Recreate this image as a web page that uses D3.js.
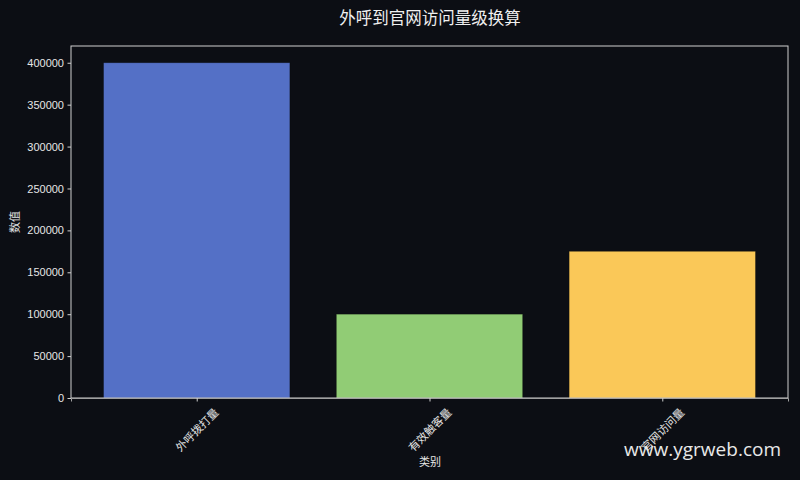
<!DOCTYPE html>
<html lang="zh">
<head>
<meta charset="UTF-8">
<title>外呼到官网访问量级换算</title>
<script src="https://cdn.jsdelivr.net/npm/d3@7"></script>
<style>
  html, body { margin: 0; padding: 0; background: #0c0e14; }
  svg { display: block; }
  text { font-family: "Liberation Sans", "Noto Sans CJK SC", sans-serif; }
</style>
</head>
<body>
<svg width="800" height="480"></svg>
<script>
  var categories = ['外呼拨打量', '有效触客量', '官网访问量'];
  var values = [400000, 100000, 175000];
  var colors = ['#5470c6', '#91cc75', '#fac858'];
  var yTicks = [0, 50000, 100000, 150000, 200000, 250000, 300000, 350000, 400000];

  var margin = { top: 46, right: 12, bottom: 82, left: 71 };
  var svg = d3.select('svg');
  var width = +svg.attr('width') - margin.left - margin.right;
  var height = +svg.attr('height') - margin.top - margin.bottom;

  svg.append('rect').attr('width', 800).attr('height', 480).attr('fill', '#0c0e14');

  var g = svg.append('g')
    .attr('transform', 'translate(' + margin.left + ',' + margin.top + ')');

  // bars of width 0.8 with 5% side margins
  var x = d3.scaleLinear().domain([-0.54, categories.length - 1 + 0.54]).range([0, width]);
  var y = d3.scaleLinear().domain([0, 420000]).range([height, 0]);
  var barW = x(0.8) - x(0);

  g.selectAll('.bar')
    .data(values)
    .enter().append('rect')
    .attr('class', 'bar')
    .attr('x', function(d, i) { return x(i) - barW / 2; })
    .attr('y', function(d) { return y(d); })
    .attr('width', barW)
    .attr('height', function(d) { return height - y(d); })
    .attr('fill', function(d, i) { return colors[i]; })
    .attr('stroke', 'rgba(0,0,0,0.25)')
    .attr('stroke-width', 0.8);

  // frame
  g.append('rect')
    .attr('width', width).attr('height', height)
    .attr('fill', 'none').attr('stroke', '#cfcfcf').attr('stroke-width', 1);

  var yAxis = g.append('g')
    .call(d3.axisLeft(y).tickValues(yTicks).tickSize(3.5).tickPadding(3.5).tickFormat(d3.format('d')));
  yAxis.select('.domain').remove();
  yAxis.selectAll('line').attr('stroke', '#cfcfcf');
  yAxis.selectAll('text').attr('fill', '#e6e6e6').style('font-size', '11px');

  var xAxis = g.append('g')
    .attr('transform', 'translate(0,' + height + ')')
    .call(d3.axisBottom(x).tickValues(d3.range(categories.length)).tickSize(3.5)
      .tickFormat(function(d) { return categories[d]; }));
  xAxis.select('.domain').attr('stroke', '#a0a0a0');
  xAxis.selectAll('line').attr('stroke', '#cfcfcf');
  xAxis.selectAll('text')
    .attr('fill', '#e6e6e6')
    .style('font-size', '11px')
    .attr('text-anchor', 'middle')
    .attr('x', 0)
    .attr('y', 0)
    .attr('dy', '0.35em')
    .attr('transform', 'translate(0,32) rotate(-45)');

  svg.append('text')
    .attr('x', 430).attr('y', 24)
    .attr('text-anchor', 'middle')
    .attr('fill', '#f0f0f0')
    .style('font-size', '16.5px')
    .text('外呼到官网访问量级换算');

  svg.append('text')
    .attr('transform', 'translate(19,' + (margin.top + height / 2) + ') rotate(-90)')
    .attr('text-anchor', 'middle')
    .attr('fill', '#e6e6e6')
    .style('font-size', '11px')
    .text('数值');

  svg.append('text')
    .attr('x', 430).attr('y', 466)
    .attr('text-anchor', 'middle')
    .attr('fill', '#e6e6e6')
    .style('font-size', '11px')
    .text('类别');

  svg.append('text')
    .attr('x', 781).attr('y', 456)
    .attr('text-anchor', 'end')
    .attr('fill', '#e8e8e8')
    .style('font-family', '"Open Sans", sans-serif')
    .style('font-size', '19px')
    .text('www.ygrweb.com');
</script>
</body>
</html>
